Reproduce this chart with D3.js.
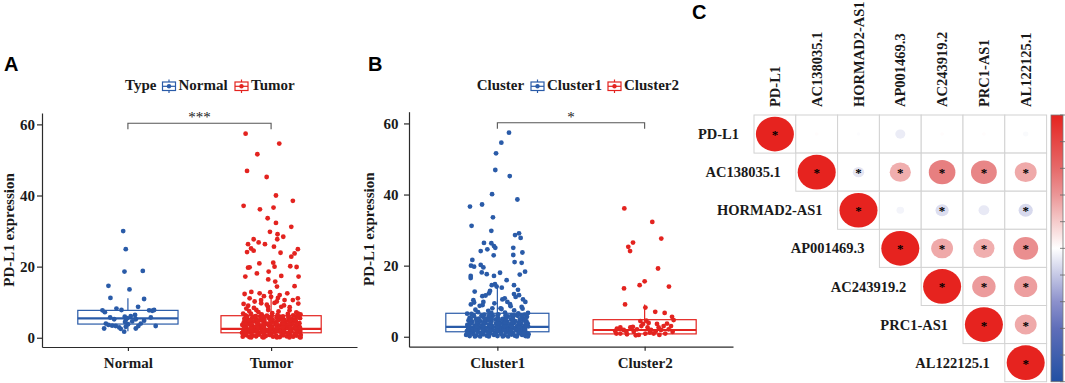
<!DOCTYPE html>
<html>
<head>
<meta charset="utf-8">
<script src="https://cdn.jsdelivr.net/npm/d3@7"></script>
<style>
  body { margin: 0; background: #fff; }
  svg text { font-family: "Liberation Serif", "Times New Roman", serif; font-weight: bold; fill: #1a1a1a; }
  .panel-letter { font-family: "Liberation Sans", Arial, sans-serif !important; font-size: 20px; fill: #000 !important; }
</style>
</head>
<body>
<svg id="fig" width="1065" height="383"></svg>
<script>
const typeGroups = ["Normal", "Tumor"];
const clusterGroups = ["Cluster1", "Cluster2"];
const yTickValues = [0, 20, 40, 60];

// box stats per group: [lower whisker, q1, median, q3, upper whisker]
const typeBoxStats = [[1.8, 3.85, 5.45, 7.7, 11.1], [0.1, 1.4, 2.5, 6.2, 13.4]];
const clusterBoxStats = [[0.1, 1.4, 2.8, 6.6, 14.3], [0.2, 0.8, 1.9, 4.8, 9.1]];

// jittered points: [jitter offset in category units, PD-L1 expression]
const normalPoints = [
  [-0.033,30.0],[-0.015,24.9],[-0.024,18.6],[0.104,18.8],[-0.136,14.6],[0.011,13.6],[-0.122,11.2],[0.113,10.9],
  [-0.178,7.7],[-0.161,7.2],[-0.080,8.2],[-0.045,7.8],[0.071,8.7],[0.148,7.7],[0.183,7.8],[0.170,7.6],
  [-0.124,5.7],[-0.096,5.2],[-0.022,5.9],[-0.015,5.0],[0.050,6.4],[0.055,5.2],[0.113,4.8],[0.160,5.7],[-0.005,5.5],[0.020,6.1],
  [-0.154,4.0],[-0.136,3.6],[-0.085,3.3],[-0.061,2.9],[-0.050,2.5],[-0.166,2.6],[-0.026,1.7],[-0.015,3.1],[0.001,3.8],
  [0.055,2.6],[0.073,3.3],[0.090,4.0],[0.194,3.3],[-0.020,4.4],[-0.110,3.4],[0.030,4.6]
];
const tumorPoints = [
  [-0.178,57.4],[0.057,54.6],[-0.096,51.6],[-0.168,46.9],[-0.031,45.2],[0.034,40.0],[0.152,38.5],[-0.192,37.1],
  [0.017,36.6],[-0.078,36.1],[-0.024,33.6],[0.034,32.3],[0.141,31.2],[-0.008,29.8],[0.045,29.1],[0.085,28.4],
  [0.043,27.7],[-0.122,27.7],[-0.087,26.8],[-0.161,26.3],[-0.043,26.3],[0.020,25.6],[-0.140,25.1],[0.187,24.9],
  [-0.122,24.5],[0.066,23.9],[-0.168,24.1],[0.164,23.7],[0.141,22.8],[-0.082,20.9],[0.015,21.1],[0.134,20.1],
  [0.178,19.9],[-0.161,19.7],[-0.150,19.8],[-0.099,18.1],[-0.017,18.6],[0.024,20.0],[-0.180,17.2],[0.192,17.2],
  [0.071,17.4],[-0.020,16.4],[0.029,15.8],[0.164,14.5],[0.041,14.4],[-0.185,12.3],[-0.138,12.9],[-0.080,12.5],
  [0.113,12.5],[-0.050,11.7],[-0.006,12.8],[-0.150,11.1],[0.048,11.2],[-0.115,10.2],[-0.069,9.7],[0.024,9.8],
  [0.094,10.6],[0.152,10.6],[-0.192,9.5],[0.187,11.1],[-0.022,8.7],[0.071,8.7],[-0.173,8.2],[-0.103,7.8],
  [-0.160,9.0],[-0.120,8.4],[-0.030,9.3],[0.040,10.2],[0.090,9.1],[0.130,8.6],[0.190,9.6],[-0.070,10.6],[0.000,11.5],[0.060,12.0],
  [-0.198,0.3],[-0.171,0.7],[-0.152,0.2],[-0.127,0.6],[-0.104,0.4],[-0.083,0.9],[-0.061,0.2],[-0.037,0.5],[-0.012,0.8],
  [0.014,0.3],[0.036,0.6],[0.061,0.2],[0.083,0.7],[0.108,0.4],[0.131,0.9],[0.154,0.3],[0.176,0.6],[0.199,0.2],[0.207,0.8],
  [-0.203,1.4],[-0.184,1.1],[-0.161,1.7],[-0.139,1.2],[-0.116,1.9],[-0.092,1.3],[-0.071,1.6],[-0.048,1.0],[-0.024,1.8],
  [0.002,1.2],[0.025,1.5],[0.049,1.9],[0.072,1.1],[0.096,1.6],[0.119,1.3],[0.143,1.8],[0.165,1.0],[0.188,1.5],[0.204,1.9],
  [-0.195,2.3],[-0.173,2.8],[-0.148,2.1],[-0.123,2.6],[-0.101,2.2],[-0.078,2.9],[-0.055,2.4],[-0.031,2.0],[-0.006,2.7],
  [0.019,2.3],[0.042,2.8],[0.066,2.1],[0.089,2.5],[0.113,2.9],[0.137,2.2],[0.159,2.7],[0.183,2.4],[0.201,2.9],
  [-0.201,3.6],[-0.178,3.2],[-0.156,3.9],[-0.132,3.4],[-0.108,3.1],[-0.086,3.7],[-0.063,3.3],[-0.039,3.9],[-0.016,3.5],
  [0.009,3.1],[0.031,3.8],[0.056,3.4],[0.078,3.0],[0.102,3.6],[0.126,3.2],[0.148,3.9],[0.172,3.4],[0.196,3.0],
  [-0.191,4.3],[-0.166,4.8],[-0.142,4.1],[-0.119,4.6],[-0.094,4.2],[-0.069,4.9],[-0.046,4.4],[-0.021,4.0],[0.004,4.7],
  [0.028,4.3],[0.053,4.9],[0.077,4.1],[0.101,4.5],[0.124,4.8],[0.149,4.2],[0.174,4.6],[0.198,4.1],
  [-0.186,5.4],[-0.158,5.0],[-0.131,5.7],[-0.104,5.2],[-0.076,5.9],[-0.049,5.3],[-0.018,5.6],[0.011,5.1],
  [0.039,5.8],[0.068,5.4],[0.094,5.0],[0.121,5.6],[0.147,5.2],[0.175,5.9],[0.202,5.5],
  [-0.178,6.3],[-0.141,6.8],[-0.107,6.1],[-0.066,6.6],[-0.029,6.2],[0.008,6.9],[0.045,6.4],[0.083,6.0],[0.117,6.7],[0.154,6.3],[0.189,6.8],
  [-0.153,7.5],[-0.088,7.2],[-0.020,7.8],[0.052,7.4],[0.129,7.7],[0.176,7.1],
  [-0.186,0.9],[-0.139,0.1],[-0.094,1.0],[-0.052,0.1],[-0.004,1.0],[0.041,0.1],[0.087,1.1],[0.128,0.1],[0.173,1.1],[0.206,0.1],
  [-0.183,1.9],[-0.137,2.0],[-0.097,2.0],[-0.051,1.9],[-0.003,2.0],[0.038,2.0],[0.086,1.9],[0.131,2.0],[0.176,2.0],
  [-0.187,3.0],[-0.142,2.9],[-0.093,3.0],[-0.049,3.0],[-0.007,3.0],[0.043,2.9],[0.083,3.0],[0.133,3.0],[0.172,2.9],
  [-0.182,4.0],[-0.138,3.9],[-0.096,4.0],[-0.053,4.0],[-0.002,4.0],[0.039,3.9],[0.088,4.0],[0.127,4.0],[0.178,3.9],
  [-0.184,5.0],[-0.143,5.0],[-0.091,4.9],[-0.048,5.0],[-0.006,5.0],[0.044,5.0],[0.082,4.9],[0.134,5.0],[0.171,5.0],
  [-0.168,6.0],[-0.121,5.9],[-0.058,6.0],[0.003,6.0],[0.061,5.9],[0.122,6.0],[0.183,6.0],[-0.195,6.8],[0.205,6.6]
];
const cluster1Points = [
  [0.079,57.4],[0.027,54.6],[-0.009,51.6],[-0.014,46.9],[0.084,45.2],[-0.036,40.1],[0.136,38.6],[-0.186,36.6],
  [-0.104,37.2],[-0.030,33.6],[-0.175,31.2],[-0.041,29.8],[0.120,28.6],[0.147,29.1],[0.158,27.8],[-0.091,26.4],
  [-0.041,26.3],[-0.023,25.5],[-0.014,25.0],[-0.113,24.1],[-0.068,24.6],[0.108,25.0],[0.108,23.0],[0.170,23.7],
  [-0.025,22.9],[-0.170,21.6],[-0.179,20.0],[-0.158,19.7],[-0.113,20.2],[-0.095,19.5],[0.117,21.0],[0.165,20.8],
  [-0.106,18.1],[-0.072,17.6],[-0.023,17.1],[0.018,18.0],[0.188,18.3],[0.152,17.5],[-0.181,17.1],[-0.181,16.5],
  [0.063,15.9],[0.113,14.5],[-0.154,12.7],[-0.038,14.5],[-0.016,14.8],[-0.005,14.1],[0.147,11.7],[-0.102,11.4],
  [-0.163,10.3],[-0.158,9.6],[-0.095,9.8],[-0.100,8.9],[-0.057,12.2],[0.034,10.5],[0.068,9.8],[0.113,12.0],
  [0.124,11.2],[0.086,9.2],[0.174,10.5],[-0.034,8.0],[0.022,8.0],[0.165,8.4],
  [-0.120,8.7],[-0.020,9.4],[0.050,10.8],[0.090,8.6],[-0.180,9.1],[0.190,9.8],[-0.080,11.6],[0.140,13.2],[-0.050,12.9],[0.030,13.8],
  [-0.212,0.5],[-0.188,0.2],[-0.163,0.8],[-0.141,0.4],[-0.117,0.1],[-0.094,0.7],[-0.072,0.3],[-0.047,0.9],[-0.023,0.5],
  [0.001,0.2],[0.026,0.8],[0.048,0.4],[0.073,0.1],[0.097,0.6],[0.119,0.3],[0.144,0.9],[0.168,0.5],[0.191,0.2],[0.212,0.7],
  [-0.207,1.6],[-0.181,1.2],[-0.159,1.9],[-0.133,1.4],[-0.111,1.0],[-0.086,1.7],[-0.064,1.3],[-0.039,1.8],[-0.015,1.1],
  [0.011,1.5],[0.034,1.9],[0.058,1.2],[0.081,1.6],[0.106,1.0],[0.129,1.8],[0.153,1.3],[0.177,1.7],[0.199,1.1],
  [-0.199,2.5],[-0.175,2.1],[-0.151,2.8],[-0.126,2.3],[-0.103,2.9],[-0.079,2.2],[-0.054,2.6],[-0.031,2.0],[-0.007,2.7],
  [0.018,2.4],[0.043,2.9],[0.066,2.1],[0.090,2.6],[0.114,2.3],[0.139,2.8],[0.162,2.1],[0.186,2.5],[0.209,2.9],
  [-0.204,3.3],[-0.179,3.8],[-0.154,3.1],[-0.129,3.6],[-0.106,3.2],[-0.081,3.9],[-0.058,3.4],[-0.034,3.0],[-0.009,3.7],
  [0.016,3.3],[0.039,3.9],[0.063,3.1],[0.087,3.5],[0.111,3.8],[0.136,3.2],[0.161,3.6],[0.184,3.0],[0.206,3.7],
  [-0.196,4.6],[-0.169,4.2],[-0.144,4.9],[-0.117,4.4],[-0.092,4.0],[-0.066,4.7],[-0.041,4.3],[-0.013,4.8],
  [0.014,4.1],[0.041,4.6],[0.068,4.2],[0.093,4.9],[0.121,4.4],[0.146,4.0],[0.172,4.7],[0.198,4.3],
  [-0.189,5.3],[-0.158,5.8],[-0.127,5.1],[-0.097,5.6],[-0.063,5.2],[-0.031,5.9],[0.003,5.4],[0.036,5.0],
  [0.071,5.7],[0.104,5.3],[0.138,5.9],[0.169,5.2],[0.201,5.6],
  [-0.176,6.4],[-0.131,6.9],[-0.088,6.2],[-0.041,6.7],[0.006,6.3],[0.052,6.8],[0.097,6.1],[0.142,6.6],[0.186,6.2],
  [-0.149,7.6],[-0.062,7.3],[0.028,7.8],[0.114,7.4],[0.171,7.9],
  [-0.199,1.0],[-0.152,0.1],[-0.106,1.1],[-0.058,0.1],[-0.011,1.0],[0.037,0.1],[0.085,1.0],[0.132,0.1],[0.179,1.0],[0.207,0.1],
  [-0.194,2.0],[-0.147,1.9],[-0.099,2.0],[-0.052,2.0],[-0.004,1.9],[0.045,2.0],[0.093,2.0],[0.141,1.9],[0.188,2.0],
  [-0.191,3.0],[-0.142,2.9],[-0.094,3.0],[-0.047,3.0],[0.002,2.9],[0.049,3.0],[0.098,3.0],[0.147,2.9],[0.195,3.0],
  [-0.186,4.0],[-0.139,3.9],[-0.091,4.0],[-0.044,4.0],[0.004,3.9],[0.052,4.0],[0.101,4.0],[0.149,3.9],[0.192,4.0],
  [-0.181,5.0],[-0.136,4.9],[-0.087,5.0],[-0.039,5.0],[0.009,4.9],[0.057,5.0],[0.105,5.0],[0.153,4.9],[0.189,5.0],
  [-0.163,6.0],[-0.108,5.9],[-0.056,6.0],[0.001,6.0],[0.055,5.9],[0.113,6.0],[0.164,6.0],[-0.205,6.5],[0.208,6.7]
];
const cluster2Points = [
  [-0.138,36.1],[0.052,32.3],[0.113,27.6],[-0.079,26.5],[-0.111,25.3],[-0.099,24.1],[0.091,19.2],[0.000,15.6],
  [-0.034,14.5],[0.165,14.1],[-0.140,13.6],[-0.133,9.1],
  [0.005,8.2],[0.072,7.0],[0.136,6.7],[0.186,5.6],[0.197,4.7],[-0.029,4.4],[0.027,3.9],[0.084,3.6],
  [-0.188,2.3],[-0.165,2.6],[-0.142,1.9],[-0.097,2.6],[-0.074,1.4],[-0.052,2.1],[-0.022,3.0],[0.005,0.9],
  [0.020,2.6],[0.043,1.9],[0.061,0.9],[0.095,2.6],[0.111,1.9],[0.129,3.0],[0.140,0.9],[0.163,2.1],[0.179,3.0],
  [-0.192,0.9],[-0.120,0.7],[-0.040,0.5],[-0.011,3.6],[0.011,4.5],[-0.165,0.9],[-0.080,2.8],[0.100,0.5],
  [0.152,3.7],[-0.200,1.6],[-0.125,1.5],[0.035,1.2],[0.075,1.5],[0.190,1.4],[-0.060,0.4]
];

const genes = ["PD-L1", "AC138035.1", "HORMAD2-AS1", "AP001469.3", "AC243919.2", "PRC1-AS1", "AL122125.1"];
// upper triangle of the correlation matrix, row i starts at column i
const corrRows = [
  [1, 0.01, -0.01, -0.07, 0.01, 0.01, -0.02],
  [1, -0.09, 0.31, 0.49, 0.46, 0.33],
  [1, -0.04, -0.12, -0.08, -0.14],
  [1, 0.33, 0.31, 0.43],
  [1, 0.38, 0.37],
  [1, 0.33],
  [1]
];
const sigRows = [
  [1, 0, 0, 0, 0, 0, 0],
  [1, 1, 1, 1, 1, 1],
  [1, 0, 1, 0, 1],
  [1, 1, 1, 1],
  [1, 1, 1],
  [1, 1],
  [1]
];
const colorbarTicks = [-1, -0.8, -0.6, -0.4, -0.2, 0, 0.2, 0.4, 0.6, 0.8, 1];

const blue = "#2a5ba8", red = "#e3231f";
const svg = d3.select("#fig");

svg.append("text").attr("class", "panel-letter").attr("x", 4).attr("y", 71).text("A");
svg.append("text").attr("class", "panel-letter").attr("x", 368).attr("y", 71).text("B");
svg.append("text").attr("class", "panel-letter").attr("x", 692).attr("y", 19).text("C");

function drawBoxPanel(p) {
    const x = d3.scalePoint().domain(p.groups).range(p.xRange).padding(0.6);
    const y = d3.scaleLinear().domain(p.yDomain).range(p.yRange);
    const step = x.step();
    const colors = [blue, red];
    const g = svg.append("g");

    // axes
    const yAxis = g.append("g")
        .attr("transform", `translate(${p.xRange[0]},0)`)
        .call(d3.axisLeft(y).tickValues(yTickValues).tickSize(5).tickSizeOuter(0).tickPadding(p.yPad));
    const xAxis = g.append("g")
        .attr("transform", `translate(0,${p.yRange[0]})`)
        .call(d3.axisBottom(x).tickSize(4).tickSizeOuter(0).tickPadding(6.5));
    [yAxis, xAxis].forEach(a => {
        a.selectAll("path, line").attr("stroke", "#2b2b2b").attr("stroke-width", 1.2);
        a.selectAll("text").style("font-size", "15px").attr("fill", "#1a1a1a")
            .style("font-family", "Liberation Serif").style("font-weight", "bold");
    });

    g.append("text")
        .attr("transform", `translate(${p.titleX},${(p.yRange[0] + p.yRange[1]) / 2}) rotate(-90)`)
        .attr("text-anchor", "middle")
        .style("font-size", "15px")
        .text("PD-L1 expression");

    // boxes
    p.groups.forEach((grp, i) => {
        const [lo, q1, med, q3, hi] = p.stats[i];
        const cx = x(grp), w = step * 0.7;
        const bg = g.append("g").attr("stroke", colors[i]).attr("stroke-width", 1.2).attr("fill", "none");
        bg.append("line").attr("x1", cx).attr("x2", cx).attr("y1", y(q3)).attr("y2", y(hi));
        bg.append("line").attr("x1", cx).attr("x2", cx).attr("y1", y(q1)).attr("y2", y(lo));
        bg.append("rect").attr("x", cx - w / 2).attr("y", y(q3)).attr("width", w).attr("height", y(q1) - y(q3));
        bg.append("line").attr("x1", cx - w / 2).attr("x2", cx + w / 2).attr("y1", y(med)).attr("y2", y(med))
            .attr("stroke-width", 2.2);
    });

    // jittered points
    p.groups.forEach((grp, i) => {
        g.append("g").selectAll("circle")
            .data(p.points[i])
            .enter().append("circle")
            .attr("cx", d => x(grp) + d[0] * step)
            .attr("cy", d => y(d[1]))
            .attr("r", 2.4)
            .attr("fill", colors[i]);
    });

    // significance bracket
    const by = y(p.bracketValue);
    const x1 = x(p.groups[0]), x2 = x(p.groups[1]);
    g.append("path")
        .attr("d", `M${x1},${by + 6}V${by}H${x2}V${by + 6}`)
        .attr("fill", "none").attr("stroke", "#555").attr("stroke-width", 1.1);
    g.append("text")
        .attr("x", (x1 + x2) / 2).attr("y", by - 1)
        .attr("text-anchor", "middle")
        .style("font-size", "15px").style("font-weight", "normal")
        .text(p.signif);

    // legend
    const lg = g.append("g");
    lg.append("text").attr("x", p.legend.titleX).attr("y", 90).style("font-size", "15px").text(p.legend.title);
    p.groups.forEach((grp, i) => {
        const kx = p.legend.keyX[i];
        const key = lg.append("g").attr("stroke", colors[i]).attr("stroke-width", 1.2).attr("fill", "none");
        key.append("line").attr("x1", kx + 6.5).attr("x2", kx + 6.5).attr("y1", 79.5).attr("y2", 93);
        key.append("rect").attr("x", kx).attr("y", 82).attr("width", 13).attr("height", 8.5).attr("fill", "#fff");
        key.append("line").attr("x1", kx).attr("x2", kx + 13).attr("y1", 86.3).attr("y2", 86.3);
        lg.append("circle").attr("cx", kx + 6.5).attr("cy", 86.3).attr("r", 2.2).attr("fill", colors[i]);
        lg.append("text").attr("x", kx + 16).attr("y", 90).style("font-size", "15px").text(grp);
    });
}

drawBoxPanel({
    groups: typeGroups, stats: typeBoxStats, points: [normalPoints, tumorPoints],
    xRange: [42, 357], yDomain: [-2.6, 63.2], yRange: [347, 113], yPad: 2, titleX: 14,
    bracketValue: 60.3, signif: "***",
    legend: { title: "Type", titleX: 125, keyX: [162.5, 235] }
});
drawBoxPanel({
    groups: clusterGroups, stats: clusterBoxStats, points: [cluster1Points, cluster2Points],
    xRange: [409, 733], yDomain: [-2.8, 63.3], yRange: [346.7, 111.7], yPad: 5.5, titleX: 374,
    bracketValue: 60.2, signif: "*",
    legend: { title: "Cluster", titleX: 476.7, keyX: [531, 608] }
});

// correlation plot
const cxs = d3.scaleBand().domain(genes).range([754, 1046.6]);
const cys = d3.scaleBand().domain(genes).range([115, 381.7]);
const corrColor = d3.scaleLinear()
    .domain([-1, -0.5, 0, 0.5, 1])
    .range(["#2150a3", "#6f76bf", "#ffffff", "#e67c7d", "#e6231f"]);

const cg = svg.append("g");
const cells = [];
corrRows.forEach((row, i) => row.forEach((r, k) => cells.push({ i, j: i + k, r, sig: sigRows[i][k] })));

cg.selectAll("rect.cell")
    .data(cells)
    .enter().append("rect")
    .attr("class", "cell")
    .attr("x", d => cxs(genes[d.j])).attr("y", d => cys(genes[d.i]))
    .attr("width", cxs.bandwidth()).attr("height", cys.bandwidth())
    .attr("fill", "#fff").attr("stroke", "#d2d2d2").attr("stroke-width", 1);

cg.selectAll("ellipse")
    .data(cells)
    .enter().append("ellipse")
    .attr("cx", d => cxs(genes[d.j]) + cxs.bandwidth() / 2)
    .attr("cy", d => cys(genes[d.i]) + cys.bandwidth() / 2)
    .attr("rx", d => 0.455 * cxs.bandwidth() * Math.sqrt(Math.abs(d.r)))
    .attr("ry", d => 0.455 * cys.bandwidth() * Math.sqrt(Math.abs(d.r)))
    .attr("fill", d => corrColor(d.r));

cg.selectAll("text.star")
    .data(cells.filter(d => d.sig))
    .enter().append("text")
    .attr("class", "star")
    .attr("x", d => cxs(genes[d.j]) + cxs.bandwidth() / 2)
    .attr("y", d => cys(genes[d.i]) + cys.bandwidth() / 2 + 5)
    .attr("text-anchor", "middle")
    .style("font-size", "13px").style("font-weight", "bold")
    .style("fill", "#000")
    .text("*");

// row labels, left of the diagonal
cg.selectAll("text.rowlab")
    .data(genes)
    .enter().append("text")
    .attr("class", "rowlab")
    .attr("x", (d, i) => cxs(d) - 15)
    .attr("y", d => cys(d) + cys.bandwidth() / 2)
    .attr("dy", "0.35em")
    .attr("text-anchor", "end")
    .style("font-size", "14.5px")
    .text(d => d);

// column labels, vertical
cg.selectAll("text.collab")
    .data(genes)
    .enter().append("text")
    .attr("class", "collab")
    .attr("transform", d => `translate(${cxs(d) + cxs.bandwidth() / 2 + 5},107) rotate(-90)`)
    .style("font-size", "14.5px")
    .text(d => d);

// colour bar
const cb = { x: 1051, w: 12 };
const cbScale = d3.scaleLinear().domain([-1, 1]).range([381.7, 115]);
const grad = svg.append("defs").append("linearGradient")
    .attr("id", "cbgrad").attr("x1", 0).attr("x2", 0).attr("y1", 1).attr("y2", 0);
colorbarTicks.forEach(t => {
    grad.append("stop").attr("offset", (t + 1) / 2).attr("stop-color", corrColor(t));
});
svg.append("rect")
    .attr("x", cb.x).attr("y", cbScale(1))
    .attr("width", cb.w).attr("height", cbScale(-1) - cbScale(1))
    .attr("fill", "url(#cbgrad)").attr("stroke", "#777").attr("stroke-width", 0.8);
svg.append("g").selectAll("line")
    .data(colorbarTicks)
    .enter().append("line")
    .attr("x1", cb.x + cb.w - 3).attr("x2", cb.x + cb.w + 3)
    .attr("y1", d => cbScale(d)).attr("y2", d => cbScale(d))
    .attr("stroke", "#666").attr("stroke-width", 0.8);
</script>
</body>
</html>
